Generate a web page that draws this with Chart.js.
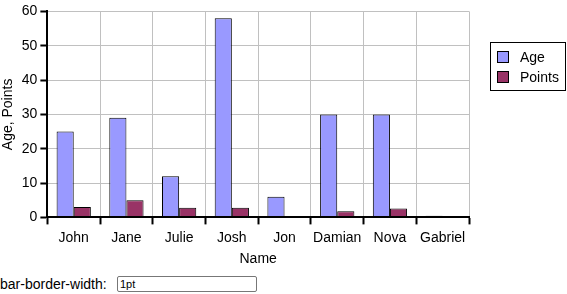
<!DOCTYPE html>
<html><head><meta charset="utf-8">
<script src="https://cdn.jsdelivr.net/npm/chart.js@4"></script>
<style>
html,body{margin:0;padding:0;background:#fff;}
#wrap{position:relative;width:567px;height:268px;}
#ctrl{position:absolute;left:0;top:276px;font:14px "Liberation Sans",Arial,sans-serif;color:#000;white-space:nowrap;}
#ctrl input{position:absolute;left:117px;top:0px;width:134px;height:12px;font:11px "Liberation Sans",Arial,sans-serif;border:1px solid #777;border-radius:2px;padding:1px 2px;}
</style></head>
<body>
<div id="wrap"><canvas id="c" width="567" height="268"></canvas></div>
<div id="ctrl"><span>bar-border-width:</span><input type="text" value="1pt"></div>
<script>
const names = ["John","Jane","Julie","Josh","Jon","Damian","Nova","Gabriel"];
const age = [25,29,12,58,6,30,30,0.5];
const points = [3,5,2.8,2.8,0.2,1.8,2.6,0.2];
const yTicks = [0,10,20,30,40,50,60];

const FONT = {family:'"Liberation Sans", Arial, sans-serif', size:14};

const boxLegend = {
  id:'boxLegend',
  afterDraw(chart){
    const ctx = chart.ctx;
    const x = chart.chartArea.right + 21, y = 42, w = 75, h = 48;
    ctx.save();
    ctx.strokeStyle = '#000'; ctx.lineWidth = 1;
    ctx.strokeRect(x+0.5, y+0.5, w, h);
    ctx.font = '14px "Liberation Sans", Arial, sans-serif';
    ctx.textBaseline = 'middle';
    chart.data.datasets.forEach((ds,i)=>{
      const cy = y + 15 + i*20;
      ctx.fillStyle = ds.backgroundColor;
      ctx.fillRect(x+7.5, cy-5.5, 11, 11);
      ctx.strokeRect(x+7.5, cy-5.5, 11, 11);
      ctx.fillStyle = '#000';
      ctx.fillText(ds.label, x+30, cy+1);
    });
    ctx.restore();
  }
};

new Chart(document.getElementById('c'), {
  type:'bar',
  data:{
    labels:names,
    datasets:[
      {label:'Age', data:age, backgroundColor:'#9999ff', borderColor:'#000', borderWidth:1, borderSkipped:false},
      {label:'Points', data:points, backgroundColor:'#993366', borderColor:'#000', borderWidth:1, borderSkipped:false}
    ]
  },
  options:{
    responsive:false, animation:false,
    layout:{padding:{top:3,right:98,left:0,bottom:0}},
    datasets:{bar:{barPercentage:1, categoryPercentage:0.65}},
    plugins:{legend:{display:false}, tooltip:{enabled:false}},
    scales:{
      x:{
        grid:{display:true, offset:true, color:'#c0c0c0', tickColor:'#000', tickLength:7, tickWidth:2},
        border:{color:'#000', width:2},
        ticks:{color:'#000', font:FONT, padding:5, maxRotation:0},
        title:{display:true, text:'Name', color:'#000', font:FONT, padding:{top:0,bottom:0}}
      },
      y:{
        min:0, max:60,
        afterBuildTicks(axis){ axis.ticks = yTicks.map(v=>({value:v})); },
        grid:{color:'#c0c0c0', tickColor:'#000', tickLength:7, tickWidth:2},
        border:{color:'#000', width:2},
        ticks:{color:'#000', font:FONT, padding:3},
        title:{display:true, text:'Age, Points', color:'#000', font:FONT, padding:{top:0,bottom:2}}
      }
    }
  },
  plugins:[boxLegend]
});
</script>
</body></html>
